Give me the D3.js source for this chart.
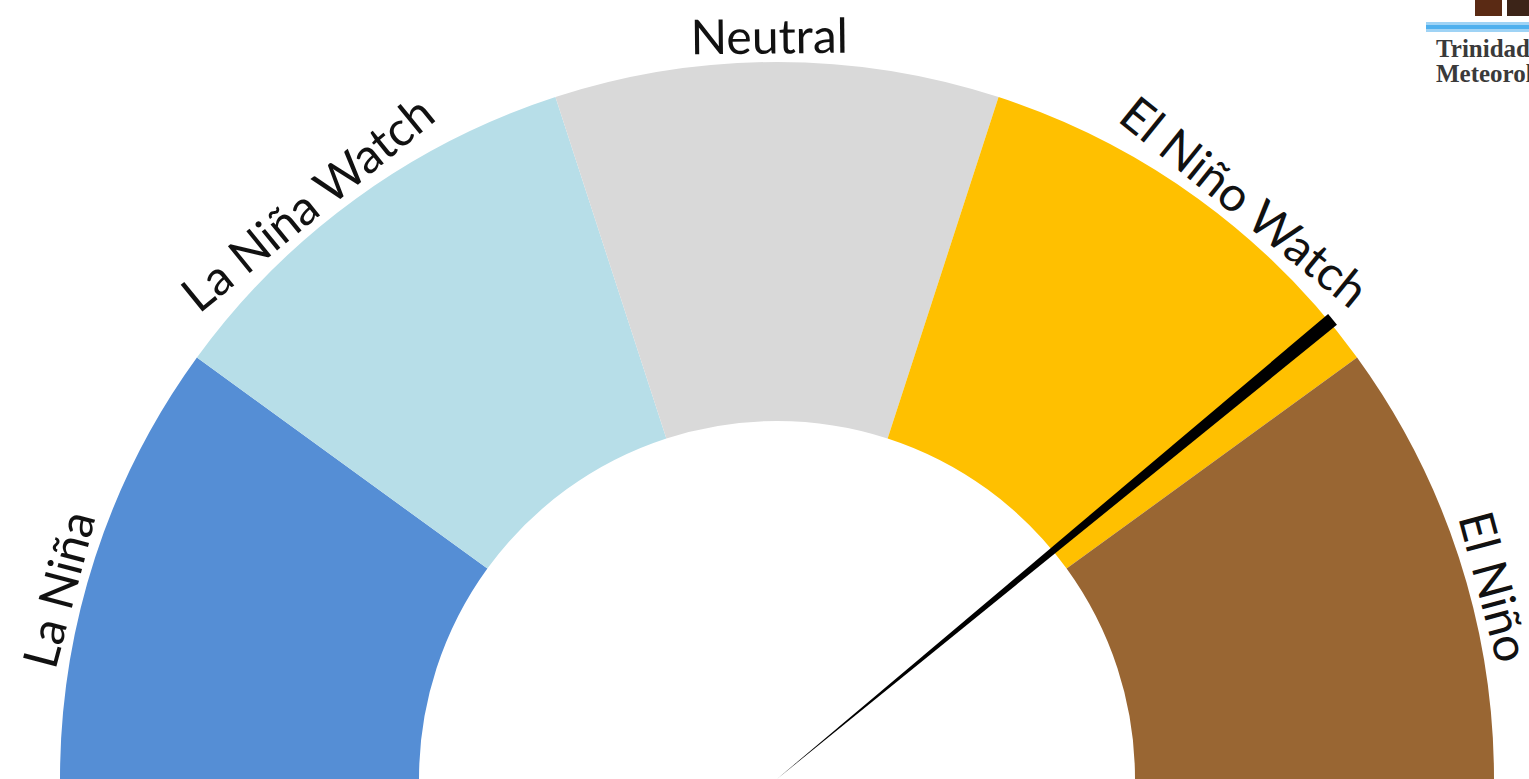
<!DOCTYPE html>
<html>
<head>
<meta charset="utf-8">
<script src="https://cdn.jsdelivr.net/npm/d3@7"></script>
<style>
  html, body { margin: 0; padding: 0; background: #ffffff; overflow: hidden; }
  svg { display: block; }
</style>
</head>
<body>
<svg id="chart" width="1529" height="779"></svg>
<script>
// ---- data ----
const categories = ["La Niña", "La Niña Watch", "Neutral", "El Niño Watch", "El Niño"];
const segmentValues = [20, 20, 20, 20, 20];          // equal-width gauge bands (percent of dial)
const segmentColors = ["#558ED5", "#B7DEE8", "#D9D9D9", "#FFC000", "#996633"];
const needleValue = 78;                                // pointer position on 0–100 dial
const logoLines = ["Trinidad & Tobago", "Meteorological Service"];

// ---- layout ----
const W = 1529, H = 779;
const cx = 777, cy = 779;
const outerR = 717, innerR = 358;
const labelR = 744;

const svg = d3.select("#chart");
const g = svg.append("g").attr("transform", `translate(${cx},${cy})`);

const dial = d3.scaleLinear().domain([0, 100]).range([-Math.PI / 2, Math.PI / 2]);

const pie = d3.pie().sort(null).value(d => d)
  .startAngle(-Math.PI / 2).endAngle(Math.PI / 2);
const arcs = pie(segmentValues);

const arc = d3.arc().innerRadius(innerR).outerRadius(outerR);

g.selectAll("path.seg")
  .data(arcs)
  .join("path")
  .attr("class", "seg")
  .attr("d", arc)
  .attr("fill", (d, i) => segmentColors[i]);

// labels
const deg = Math.PI / 180;
g.selectAll("text.lbl")
  .data(arcs)
  .join("text")
  .attr("class", "lbl")
  .attr("transform", (d, i) => {
    let mid = (d.startAngle + d.endAngle) / 2;
    // nudge side labels slightly toward the horizon
    if (mid < -0.01) mid -= 3.2 * deg;
    else if (mid > 0.01) mid += 3.0 * deg;
    else mid -= 0.6 * deg;
    const x = labelR * Math.sin(mid);
    const y = -labelR * Math.cos(mid);
    return `translate(${x},${y}) rotate(${mid / deg})`;
  })
  .attr("text-anchor", "middle")
  .attr("dominant-baseline", "central")
  .attr("font-family", "Lato, 'Open Sans', sans-serif")
  .attr("font-size", 48)
  .attr("fill", "#111")
  .text((d, i) => categories[i]);

// needle
const na = dial(needleValue);
const needleArc = d3.arc()
  .innerRadius(0).outerRadius(721)
  .startAngle(na - 0.55 * deg).endAngle(na + 0.55 * deg);
g.append("path").attr("d", needleArc()).attr("fill", "#000");

// logo fragment (top-right, cropped by the frame as in the source image)
const logo = svg.append("g");
logo.append("rect").attr("x", 1475).attr("y", 0).attr("width", 27).attr("height", 16).attr("fill", "#5a2a14");
logo.append("rect").attr("x", 1507).attr("y", 0).attr("width", 22).attr("height", 16).attr("fill", "#3c2418");
logo.append("rect").attr("x", 1426).attr("y", 22).attr("width", 103).attr("height", 10).attr("fill", "#9fd3f5");
logo.append("rect").attr("x", 1426).attr("y", 25).attr("width", 103).attr("height", 4).attr("fill", "#4fb0ee");
logo.selectAll("text.logo")
  .data(logoLines)
  .join("text")
  .attr("class", "logo")
  .attr("x", 1436)
  .attr("y", (d, i) => 57 + i * 25)
  .attr("font-family", "'Liberation Serif', serif")
  .attr("font-weight", "bold")
  .attr("font-size", 25)
  .attr("fill", "#3a3a3a")
  .text(d => d);
</script>
</body>
</html>
